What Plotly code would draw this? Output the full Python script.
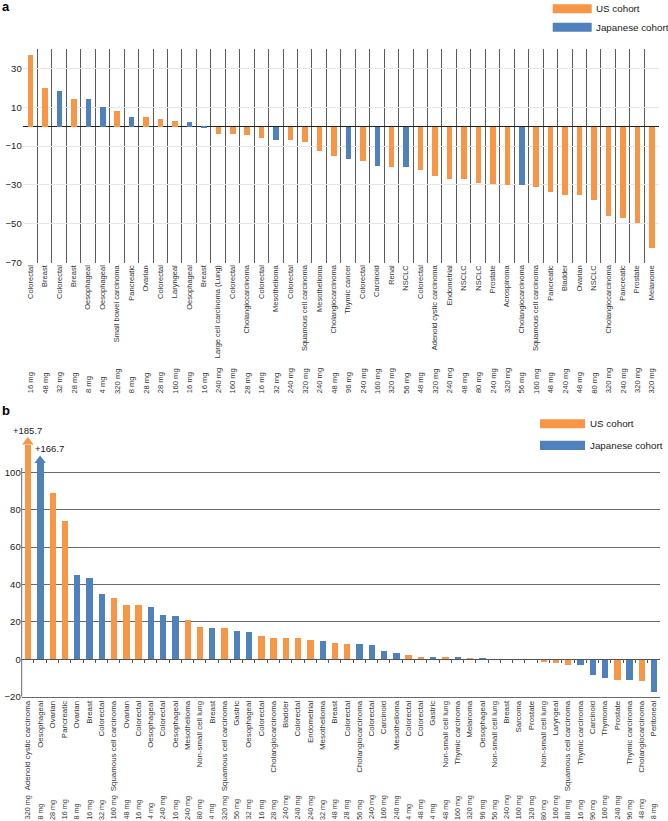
import plotly.graph_objects as go

# ---------------- Panel a data ----------------
cats_a = ["Colorectal", "Breast", "Colorectal", "Breast", "Oesophageal", "Oesophageal",
          "Small bowel carcinoma", "Pancreatic", "Ovarian", "Colorectal", "Laryngeal",
          "Oesophageal", "Breast", "Large cell carcinoma (Lung)", "Colorectal",
          "Cholangiocarcinoma", "Colorectal", "Mesothelioma", "Colorectal",
          "Squamous cell carcinoma", "Mesothelioma", "Cholangiocarcinoma", "Thymic cancer",
          "Colorectal", "Carcinoid", "Renal", "NSCLC", "Colorectal", "Adenoid cystic carcinoma",
          "Endometrial", "NSCLC", "NSCLC", "Prostate", "Acrospiroma", "Cholangiocarcinoma",
          "Squamous cell carcinoma", "Pancreatic", "Bladder", "Ovarian", "NSCLC",
          "Cholangiocarcinoma", "Pancreatic", "Prostate", "Melanome"]
doses_a = [16, 48, 32, 28, 8, 4, 320, 8, 28, 28, 160, 16, 16, 240, 160, 28, 16, 32, 240, 320,
           240, 48, 96, 240, 160, 320, 56, 48, 320, 240, 48, 80, 240, 320, 56, 160, 48, 240,
           48, 80, 320, 240, 320, 320]
values_a = [36.9, 19.7, 18.6, 14.5, 14.2, 10.1, 8.2, 4.8, 4.8, 4.1, 2.9, 2.2, -0.5, -3.6,
            -3.9, -4.4, -5.8, -7.0, -7.0, -7.7, -12.5, -14.8, -16.6, -17.6, -20.0, -20.7,
            -20.7, -22.4, -25.5, -26.8, -26.8, -29.0, -29.6, -30.1, -30.1, -31.1, -33.8,
            -34.9, -35.0, -37.8, -45.8, -46.8, -49.6, -62.2]
cohort_a = ["US", "US", "JP", "US", "JP", "JP", "US", "JP", "US", "US", "US", "JP", "JP",
            "US", "US", "US", "US", "JP", "US", "US", "US", "US", "JP", "US", "JP", "US",
            "JP", "US", "US", "US", "US", "US", "US", "US", "JP", "US", "US", "US", "US",
            "US", "US", "US", "US", "US"]

# ---------------- Panel b data ----------------
cats_b = ["Adenoid cystic carcinoma", "Oesophageal", "Ovarian", "Pancreatic", "Ovarian",
          "Breast", "Colorectal", "Squamous cell carcinoma", "Ovarian", "Colorectal",
          "Oesophageal", "Colorectal", "Oesophageal", "Mesothelioma", "Non-small cell lung",
          "Breast", "Squamous cell carcinoma", "Gastric", "Oesophageal", "Colorectal",
          "Cholangiocarcinoma", "Bladder", "Colorectal", "Endometrial", "Mesothelioma",
          "Breast", "Colorectal", "Cholangiocarcinoma", "Colorectal", "Carcinoid",
          "Mesothelioma", "Colorectal", "Colorectal", "Gastric", "Non-small cell lung",
          "Thymic carcinoma", "Melanoma", "Oesophageal", "Non-small cell lung", "Breast",
          "Sarcoma", "Prostate", "Non-small cell lung", "Laryngeal", "Squamous cell carcinoma",
          "Thymic carcinoma", "Carcinoid", "Thymoma", "Prostate", "Thymic carcinoma",
          "Cholangiocarcinoma", "Peritoneal"]
doses_b = [320, 8, 28, 16, 8, 16, 32, 160, 48, 16, 4, 240, 16, 240, 80, 4, 320, 56, 32, 16,
           28, 240, 240, 240, 32, 48, 28, 56, 240, 160, 240, 4, 48, 4, 48, 160, 320, 96, 56,
           240, 160, 320, 80, 160, 80, 16, 96, 160, 240, 96, 48, 8]
values_b = [185.7, 166.7, 89.0, 73.8, 45.0, 43.6, 35.2, 32.9, 29.2, 28.9, 28.2, 23.5, 23.2,
            21.2, 17.3, 16.9, 16.6, 15.0, 14.6, 12.7, 11.6, 11.2, 11.2, 10.3, 9.6, 8.8, 8.4,
            8.0, 7.7, 4.6, 3.2, 2.1, 1.4, 1.2, 1.2, 1.2, 0.9, 0.7, 0, 0, 0, 0, -1.2, -2.0,
            -2.9, -3.0, -8.2, -10.0, -11.2, -11.2, -11.6, -17.5]
cohort_b = ["US", "JP", "US", "US", "JP", "JP", "JP", "US", "US", "US", "JP", "JP", "JP",
            "US", "US", "JP", "US", "JP", "JP", "US", "US", "US", "US", "US", "JP", "US",
            "US", "JP", "JP", "JP", "JP", "US", "US", "JP", "US", "JP", "US", "JP", "JP",
            "US", "US", "US", "US", "US", "US", "JP", "JP", "JP", "US", "JP", "US", "JP"]
# bars exceeding the axis are drawn truncated at these heights (axis break)
broken_b = {0: 114.8, 1: 105.0}

legend_names = {"US": "US cohort", "JP": "Japanese cohort"}
colors = {"US": "#F79646", "JP": "#4F81BD"}

W, H = 668, 821
FONT = "Liberation Sans, Arial, sans-serif"


def fx(p):
    return p / W


def fy(p):
    return 1 - p / H


# layout geometry (pixels)
a_left, a_right, a_top, a_bot = 22.7, 659.0, 48.9, 262.7
b_left, b_right, b_top, b_bot = 21.7, 660.0, 434.9, 696.7
b_range = [-20, 120]
b_px_per_unit = (b_bot - b_top) / (b_range[1] - b_range[0])

fig = go.Figure()

# Panel a bars
fig.add_trace(go.Bar(
    x=list(range(len(values_a))), y=values_a,
    marker=dict(color=[colors[c] for c in cohort_a], line=dict(width=0)),
    width=0.38, xaxis="x", yaxis="y", showlegend=False, hoverinfo="y"))

# Panel b bars
shown_b = [broken_b.get(i, v) for i, v in enumerate(values_b)]
fig.add_trace(go.Bar(
    x=list(range(len(values_b))), y=shown_b,
    marker=dict(color=[colors[c] for c in cohort_b], line=dict(width=0)),
    width=0.52, xaxis="x2", yaxis="y2", showlegend=False,
    customdata=values_b, hovertemplate="%{customdata}<extra></extra>"))

# arrowheads on truncated bars
head_size = 10
idx_broken = list(broken_b.keys())
fig.add_trace(go.Scatter(
    x=idx_broken,
    y=[broken_b[i] + (head_size / 4) / b_px_per_unit for i in idx_broken],
    mode="markers",
    marker=dict(symbol="triangle-up", size=head_size,
                color=[colors[cohort_b[i]] for i in idx_broken], line=dict(width=0)),
    xaxis="x2", yaxis="y2", showlegend=False, hoverinfo="skip", cliponaxis=False))

# invisible trace for the zero-line tick axis
fig.add_trace(go.Scatter(x=[0], y=[0], mode="markers", marker=dict(opacity=0, size=1),
                         xaxis="x3", yaxis="y2", showlegend=False, hoverinfo="skip"))

annotations = []
# panel letters
annotations.append(dict(text="<b>a</b>", x=0, y=fy(-3), xref="paper", yref="paper",
                        xanchor="left", yanchor="top", showarrow=False,
                        font=dict(size=13, color="#000", family=FONT)))
annotations.append(dict(text="<b>b</b>", x=0, y=fy(401), xref="paper", yref="paper",
                        xanchor="left", yanchor="top", showarrow=False,
                        font=dict(size=13, color="#000", family=FONT)))

# dose labels
for i, d in enumerate(doses_a):
    annotations.append(dict(text=f"{d} mg", x=i, xref="x", y=fy(395.5), yref="paper",
                            textangle=-90, xanchor="center", yanchor="bottom",
                            showarrow=False, font=dict(size=7.6, color="#333", family=FONT)))
for i, d in enumerate(doses_b):
    annotations.append(dict(text=f"{d} mg", x=i, xref="x2", y=fy(821.5), yref="paper",
                            textangle=-90, xanchor="center", yanchor="bottom",
                            showarrow=False, font=dict(size=7.2, color="#333", family=FONT)))

# labels for truncated bars
label_xshift = {0: 0, 1: 9}
for i in idx_broken:
    annotations.append(dict(text=f"+{values_b[i]}", x=i, xref="x2", y=broken_b[i],
                            yref="y2", yshift=14, xshift=label_xshift[i], showarrow=False,
                            xanchor="center", yanchor="middle",
                            font=dict(size=9.5, color="#222", family=FONT)))

shapes = []


def add_legend(rect_x0, rect_x1, rows, text_x):
    for (key, y0, y1) in rows:
        shapes.append(dict(type="rect", xref="paper", yref="paper",
                           x0=fx(rect_x0), x1=fx(rect_x1), y0=fy(y1), y1=fy(y0),
                           fillcolor=colors[key], line=dict(width=0)))
        annotations.append(dict(text=legend_names[key], x=fx(text_x), y=fy((y0 + y1) / 2),
                                xref="paper", yref="paper", xanchor="left", yanchor="middle",
                                showarrow=False,
                                font=dict(size=9.8, color="#222", family=FONT)))


add_legend(552.7, 591.7, [("US", 4.3, 13.3), ("JP", 22.7, 31.7)], 594)
add_legend(540.0, 585.0, [("US", 419.3, 428.3), ("JP", 440.7, 450.0)], 587.5)

# panel b y-axis line (stops at the axis break)
shapes.append(dict(type="line", xref="paper", yref="y2", x0=fx(b_left), x1=fx(b_left),
                   y0=b_range[0], y1=102.3, line=dict(color="#6b6b6b", width=1)))

zero_pos = fy(b_bot) + (0 - b_range[0]) / (b_range[1] - b_range[0]) * (fy(b_top) - fy(b_bot))

fig.update_layout(
    width=W, height=H,
    margin=dict(l=0, r=0, t=0, b=0),
    paper_bgcolor="white", plot_bgcolor="white",
    font=dict(family=FONT, color="#222"),
    barmode="overlay",
    bargap=0,
    showlegend=False,
    annotations=annotations,
    shapes=shapes,
    xaxis=dict(domain=[fx(a_left), fx(a_right)], anchor="y",
               range=[-0.52, len(values_a) - 0.48],
               tickmode="array", tickvals=list(range(len(cats_a))), ticktext=cats_a,
               tickangle=-90, tickfont=dict(size=7.5, color="#333"), ticks="",
               showgrid=False, zeroline=False, showline=False, automargin=False,
               minor=dict(tickmode="array", tickvals=[i - 0.5 for i in range(len(cats_a) + 1)],
                          showgrid=True, gridcolor="#5a5a5a", gridwidth=1, ticks="")),
    yaxis=dict(domain=[fy(a_bot), fy(a_top)], anchor="x", range=[-70, 40],
               tickmode="array", tickvals=[-70, -50, -30, -10, 10, 30],
               showgrid=True, gridcolor="#e6e6e6", gridwidth=1,
               zeroline=True, zerolinecolor="#222", zerolinewidth=1,
               showline=False, ticks="", tickfont=dict(size=9.5, color="#222"),
               automargin=False),
    xaxis2=dict(domain=[fx(b_left), fx(b_right)], anchor="y2",
                range=[-0.5, len(values_b) - 0.5],
                tickmode="array", tickvals=list(range(len(cats_b))), ticktext=cats_b,
                tickangle=-90, tickfont=dict(size=7.9, color="#333"), ticks="",
                showgrid=False, zeroline=False, showline=True, linecolor="#6b6b6b",
                linewidth=1, automargin=False),
    xaxis3=dict(overlaying="x2", anchor="free", position=zero_pos,
                range=[-0.5, len(values_b) - 0.5],
                tickmode="array", tickvals=[i + 0.5 for i in range(len(cats_b) - 1)],
                ticks="outside", ticklen=3, tickwidth=1, tickcolor="#555",
                showticklabels=False, showgrid=False, zeroline=False,
                showline=True, linecolor="#555", linewidth=1.2, automargin=False),
    yaxis2=dict(domain=[fy(b_bot), fy(b_top)], anchor="x2", range=b_range,
                tickmode="array", tickvals=[-20, 0, 20, 40, 60, 80, 100],
                showgrid=True, gridcolor="#6b6b6b", gridwidth=1,
                zeroline=False, showline=False, ticks="",
                tickfont=dict(size=9.5, color="#222"), automargin=False),
)

fig.write_html("out.html",
               config={"displayModeBar": False},
               post_script="document.body.style.margin='0';"
                           "document.body.style.overflow='hidden';")
